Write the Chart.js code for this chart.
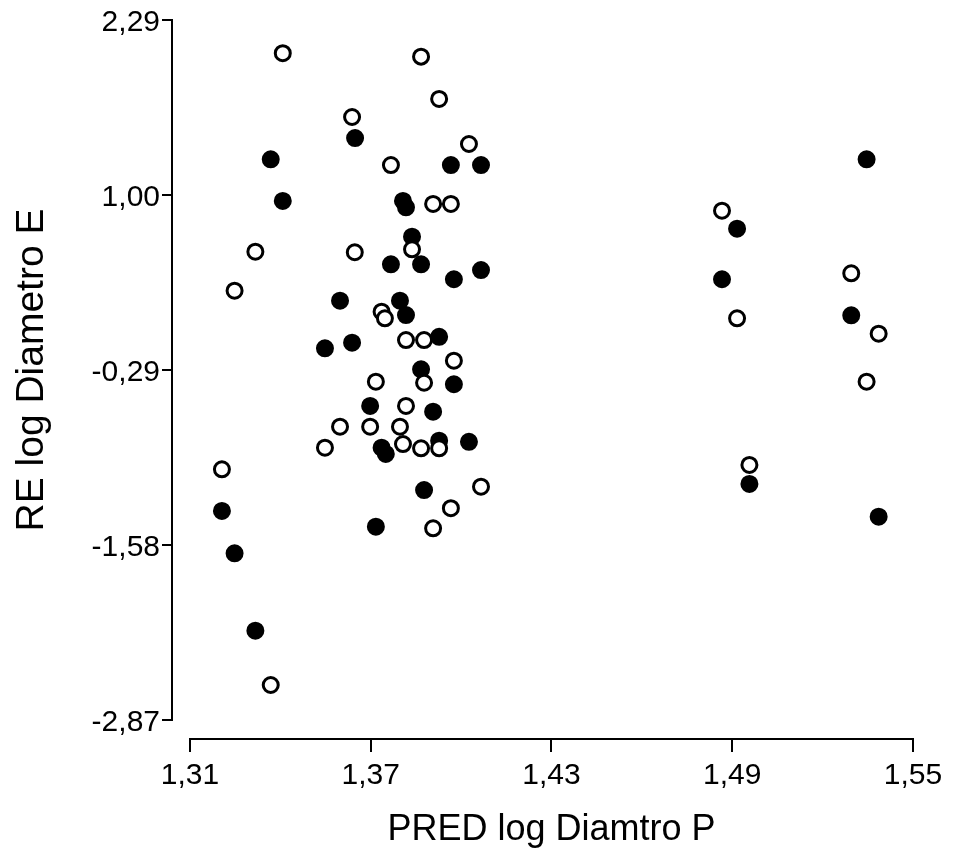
<!DOCTYPE html>
<html>
<head>
<meta charset="utf-8">
<script src="https://cdn.jsdelivr.net/npm/chart.js@4/dist/chart.umd.min.js"></script>
<style>
html,body{margin:0;padding:0;background:#fff;}
#wrap{width:954px;height:852px;}
</style>
</head>
<body>
<div id="wrap"><canvas id="c" width="954" height="852"></canvas></div>
<script>
// Tick labels
const xTicks = [1.31, 1.37, 1.43, 1.49, 1.55];
const yTicks = [-2.87, -1.58, -0.29, 1.00, 2.29];

// Filled circles
const filledX = [1.3368, 1.3408, 1.3648, 1.3966, 1.4066, 1.3807, 1.3817, 1.3837, 1.3767, 1.3867,
                 1.3976, 1.4066, 1.3598, 1.3797, 1.3817, 1.3927, 1.3548, 1.3638, 1.3867, 1.3976,
                 1.3698, 1.3907, 1.3736, 1.3750, 1.3927, 1.4026, 1.3877, 1.3717, 1.3206, 1.3248,
                 1.3317, 1.5346, 1.4916, 1.4866, 1.5295, 1.4957, 1.5386];
const filledY = [1.263, 0.956, 1.420, 1.221, 1.221, 0.956, 0.909, 0.693, 0.489, 0.489,
                 0.379, 0.447, 0.221, 0.221, 0.115, -0.045, -0.130, -0.089, -0.285, -0.395,
                 -0.555, -0.597, -0.863, -0.909, -0.811, -0.819, -1.175, -1.445, -1.329, -1.641,
                 -2.212, 1.263, 0.752, 0.379, 0.113, -1.130, -1.371];

// Open circles
const openX = [1.3408, 1.3317, 1.3248, 1.3867, 1.3927, 1.3638, 1.4026, 1.3767, 1.3907, 1.3966,
               1.3837, 1.3647, 1.3736, 1.3747, 1.3817, 1.3877, 1.3976, 1.3877, 1.3717, 1.3817,
               1.3598, 1.3698, 1.3797, 1.3548, 1.3807, 1.3867, 1.3927, 1.4066, 1.3966, 1.3907,
               1.3206, 1.3368, 1.4866, 1.5295, 1.4916, 1.5386, 1.5346, 1.4957];
const openY = [2.045, 0.582, 0.295, 2.020, 1.708, 1.575, 1.376, 1.221, 0.934, 0.934,
               0.600, 0.578, 0.140, 0.091, -0.069, -0.069, -0.221, -0.384, -0.376, -0.555,
               -0.708, -0.708, -0.708, -0.863, -0.836, -0.867, -0.867, -1.150, -1.309, -1.457,
               -1.022, -2.612, 0.884, 0.423, 0.091, -0.022, -0.376, -0.990];

const xTitle = 'PRED log Diamtro P';
const yTitle = 'RE log Diametro E';

const FONT = '"Liberation Sans", Arial, Helvetica, sans-serif';
const fmt = v => Number(v).toFixed(2).replace('.', ',');
const toPts = (xs, ys) => xs.map((x, i) => ({x: x, y: ys[i]}));

// Draws the detached (offset) axis lines and tick marks using the scales' own pixel mapping
const detachedAxes = {
  id: 'detachedAxes',
  afterDraw(chart) {
    const ctx = chart.ctx;
    const xs = chart.scales.x, ys = chart.scales.y;
    const area = chart.chartArea;
    ctx.save();
    ctx.strokeStyle = '#000';
    ctx.lineWidth = 2;
    ctx.lineCap = 'butt';
    // y axis
    const ax = area.left - 18;
    const yTop = ys.getPixelForValue(yTicks[yTicks.length - 1]);
    const yBot = ys.getPixelForValue(yTicks[0]);
    ctx.beginPath();
    ctx.moveTo(ax, yTop - 1);
    ctx.lineTo(ax, yBot + 1);
    yTicks.forEach(v => {
      const p = Math.round(ys.getPixelForValue(v));
      ctx.moveTo(ax - 10, p);
      ctx.lineTo(ax + 1, p);
    });
    ctx.stroke();
    // x axis
    const ay = area.bottom + 19;
    const xL = xs.getPixelForValue(xTicks[0]);
    const xR = xs.getPixelForValue(xTicks[xTicks.length - 1]);
    ctx.beginPath();
    ctx.moveTo(xL - 1, ay);
    ctx.lineTo(xR + 1, ay);
    xTicks.forEach(v => {
      const p = Math.round(xs.getPixelForValue(v));
      ctx.moveTo(p, ay - 1);
      ctx.lineTo(p, ay + 13);
    });
    ctx.stroke();
    ctx.restore();
  }
};

new Chart(document.getElementById('c'), {
  type: 'scatter',
  data: {
    datasets: [
      {
        label: 'open',
        data: toPts(openX, openY),
        backgroundColor: '#ffffff',
        borderColor: '#000000',
        borderWidth: 3,
        pointRadius: 7.5,
        pointHoverRadius: 7.5
      },
      {
        label: 'filled',
        data: toPts(filledX, filledY),
        backgroundColor: '#000000',
        borderColor: '#000000',
        borderWidth: 3,
        pointRadius: 7.5,
        pointHoverRadius: 7.5
      }
    ]
  },
  options: {
    responsive: false,
    animation: false,
    events: [],
    layout: {padding: {top: 20, right: 41, bottom: 0, left: 0}},
    plugins: {legend: {display: false}, tooltip: {enabled: false}},
    scales: {
      x: {
        type: 'linear',
        min: xTicks[0],
        max: xTicks[xTicks.length - 1],
        afterBuildTicks: s => { s.ticks = xTicks.map(v => ({value: v})); },
        afterFit: s => { s.height = 132; },
        grid: {display: true, drawOnChartArea: false, drawTicks: true, tickLength: 38, tickColor: 'rgba(0,0,0,0)'},
        border: {display: false},
        ticks: {
          padding: 0, color: '#000', autoSkip: false, maxRotation: 0,
          font: {family: FONT, size: 30},
          callback: v => fmt(v)
        },
        title: {display: true, text: xTitle, color: '#000',
                font: {family: FONT, size: 36, lineHeight: 1.0}}
      },
      y: {
        type: 'linear',
        min: yTicks[0],
        max: yTicks[yTicks.length - 1],
        afterBuildTicks: s => { s.ticks = yTicks.map(v => ({value: v})); },
        afterFit: s => { s.width = 190; },
        grid: {display: true, drawOnChartArea: false, drawTicks: true, tickLength: 30, tickColor: 'rgba(0,0,0,0)'},
        border: {display: false},
        ticks: {
          padding: 0, color: '#000', autoSkip: false, labelOffset: 3,
          font: {family: FONT, size: 30},
          callback: v => fmt(v)
        },
        title: {display: true, text: yTitle, color: '#000',
                font: {family: FONT, size: 39, lineHeight: 1.46}}
      }
    }
  },
  plugins: [detachedAxes]
});
</script>
</body>
</html>
